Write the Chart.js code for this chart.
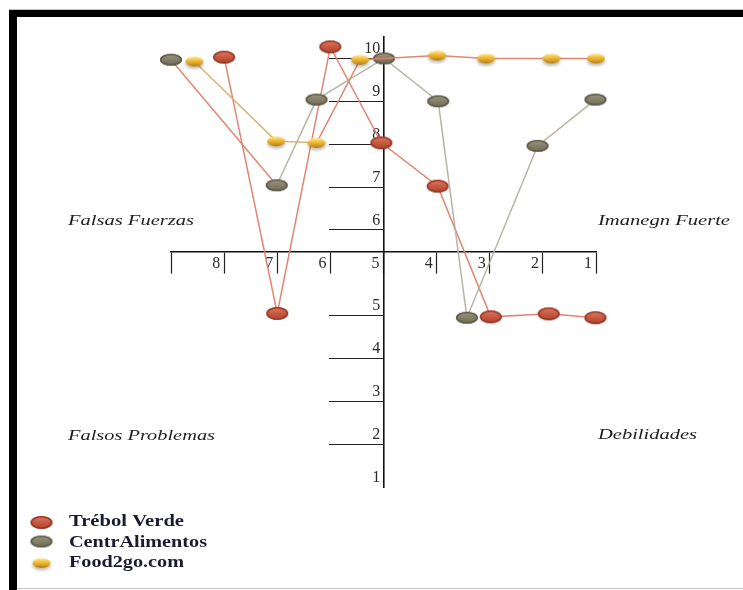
<!DOCTYPE html>
<html>
<head>
<meta charset="utf-8">
<script src="https://cdn.jsdelivr.net/npm/chart.js@4/dist/chart.umd.min.js"></script>
<style>
  html, body { margin: 0; padding: 0; background: #fff; overflow: hidden; }
  canvas { display: block; }
</style>
</head>
<body>
<canvas id="mapa" width="743" height="590"></canvas>
<script>
// Tick labels of the two crossing axes
const xTickLabels = ['1', '2', '3', '4', '5', '6', '7', '8'];
const yTickValues = [1, 2, 3, 4, 5, 6, 7, 8, 9, 10];
const yTickLabels = ['1', '2', '3', '4', '5', '6', '7', '8', '9', '10'];

// Series names
const seriesNames = ['Trébol Verde', 'CentrAlimentos', 'Food2go.com'];

// Trébol Verde
const trebolX = [8.0, 7.0, 6.0, 5.04, 3.98, 2.98, 1.89, 1.01];
const trebolY = [10.03, 5.05, 10.27, 8.03, 7.02, 4.97, 5.04, 4.95];

// CentrAlimentos
const centrX = [9.0, 7.01, 6.26, 4.99, 3.97, 3.43, 2.1, 1.01];
const centrY = [9.97, 7.04, 9.04, 10.0, 9.0, 4.95, 7.96, 9.04];

// Food2go.com
const foodX = [8.56, 7.02, 6.26, 5.44, 3.99, 3.07, 1.84, 1.0];
const foodY = [9.93, 8.07, 8.03, 9.97, 10.07, 10.0, 10.0, 10.0];

// Quadrant captions
const quadrantNames = ['Falsas Fuerzas', 'Imanegn Fuerte', 'Falsos Problemas', 'Debilidades'];

// The band between 5 and 6 is drawn twice as tall so the horizontal axis fits inside it.
function axisPos(v) { return v > 5.5 ? v + 1 : v; }

function toPoints(xs, ys) {
  return xs.map((x, i) => ({ x: x, y: axisPos(ys[i]) }));
}

// Oval markers with a soft vertical shading
function makeMarker(w, h, stops, stroke, shadow) {
  const pad = 4;
  const c = document.createElement('canvas');
  c.width = w + pad * 2;
  c.height = h + pad * 2;
  const g = c.getContext('2d');
  const cx = c.width / 2, cy = c.height / 2;
  if (shadow) {
    g.save();
    g.filter = 'blur(1.5px)';
    g.fillStyle = 'rgba(70,60,40,0.35)';
    g.beginPath();
    g.ellipse(cx, cy + 2.5, w / 2, h / 2, 0, 0, Math.PI * 2);
    g.fill();
    g.restore();
  }
  const grad = g.createLinearGradient(0, cy - h / 2, 0, cy + h / 2);
  stops.forEach(s => grad.addColorStop(s[0], s[1]));
  g.fillStyle = grad;
  g.beginPath();
  g.ellipse(cx, cy, w / 2, h / 2, 0, 0, Math.PI * 2);
  g.fill();
  if (stroke) {
    g.strokeStyle = stroke;
    g.lineWidth = 1.6;
    g.beginPath();
    g.ellipse(cx, cy, w / 2 - 0.8, h / 2 - 0.8, 0, 0, Math.PI * 2);
    g.stroke();
  }
  return c;
}

const redMarker = makeMarker(22, 13, [[0, '#e07c62'], [0.45, '#cc5c42'], [1, '#a8432f']], '#93392a', false);
const grayMarker = makeMarker(22, 12, [[0, '#9c977f'], [0.5, '#858069'], [1, '#6c6853']], '#5d5947', false);
const goldMarker = makeMarker(18, 10, [[0, '#fff0a8'], [0.35, '#f3c443'], [0.75, '#d89a1e'], [1, '#a8730f']], null, true);

const salmon = 'rgba(222,128,106,0.95)';
const taupe = 'rgba(180,176,160,0.95)';
const tan = 'rgba(214,178,110,0.95)';

function stretchedText(ctx, text, x, y, font, width, color) {
  ctx.save();
  ctx.font = font;
  const w = ctx.measureText(text).width;
  ctx.translate(x, y);
  ctx.scale(width / w, 1);
  ctx.fillStyle = color;
  ctx.textBaseline = 'alphabetic';
  ctx.textAlign = 'left';
  ctx.fillText(text, 0, 0);
  ctx.restore();
}

// Frame, quadrant captions and legend
const decorations = {
  id: 'decorations',
  beforeDraw(chart) {
    const ctx = chart.ctx;
    ctx.save();
    ctx.fillStyle = '#fff';
    ctx.fillRect(0, 0, chart.width, chart.height);
    ctx.fillStyle = '#c4c4c4';
    ctx.fillRect(9, 9, chart.width - 9, 1);
    ctx.fillRect(17, 588, chart.width - 17, 1);
    ctx.fillStyle = '#000';
    ctx.fillRect(9, 10, chart.width - 9, 7);
    ctx.fillRect(9, 10, 8, chart.height - 10);
    ctx.restore();
  },
  afterDraw(chart) {
    const ctx = chart.ctx;
    const qFont = 'italic 15px "Liberation Serif"';
    const qColor = '#1e1e1e';
    const layout = [
      { x: 68, y: 225, w: 126 },
      { x: 598, y: 225, w: 132 },
      { x: 68, y: 440, w: 147 },
      { x: 598, y: 439, w: 99 }
    ];
    quadrantNames.forEach((t, i) => stretchedText(ctx, t, layout[i].x, layout[i].y, qFont, layout[i].w, qColor));

    const markers = [redMarker, grayMarker, goldMarker];
    const rows = [
      { my: 522.5, ty: 526, w: 115 },
      { my: 541.5, ty: 547, w: 138 },
      { my: 563, ty: 567, w: 115 }
    ];
    chart.data.datasets.forEach((ds, i) => {
      const m = markers[i];
      ctx.drawImage(m, 41.5 - m.width / 2, rows[i].my - m.height / 2);
      stretchedText(ctx, ds.label, 69, rows[i].ty, 'bold 17px "Liberation Serif"', rows[i].w, '#1b1b30');
    });
  }
};

new Chart(document.getElementById('mapa'), {
  type: 'line',
  data: {
    datasets: [
      {
        label: seriesNames[0],
        data: toPoints(trebolX, trebolY),
        borderColor: salmon,
        borderWidth: 1.5,
        pointStyle: redMarker,
        pointRadius: 10,
        clip: false,
        order: 3
      },
      {
        label: seriesNames[1],
        data: toPoints(centrX, centrY),
        borderColor: taupe,
        borderWidth: 1.5,
        pointStyle: grayMarker,
        pointRadius: 10,
        clip: false,
        segment: {
          borderColor: c => c.p0DataIndex === 0 ? salmon : taupe
        },
        order: 2
      },
      {
        label: seriesNames[2],
        data: toPoints(foodX, foodY),
        borderColor: tan,
        borderWidth: 1.5,
        pointStyle: goldMarker,
        pointRadius: 10,
        clip: false,
        segment: {
          borderColor: c => c.p0DataIndex >= 2 ? salmon : tan
        },
        order: 1
      }
    ]
  },
  options: {
    responsive: false,
    animation: false,
    events: [],
    layout: { padding: { left: 171, right: 147, top: 37, bottom: 103 } },
    plugins: { legend: { display: false }, tooltip: { enabled: false } },
    scales: {
      x: {
        type: 'linear',
        reverse: true,
        min: 1,
        max: 9,
        position: { y: 6.49 },
        afterBuildTicks: s => { s.ticks = [9, 8, 7, 6, 5, 4, 3, 2, 1].map(v => ({ value: v })); },
        grid: { drawOnChartArea: false, drawTicks: true, tickLength: 21, tickColor: '#222', tickWidth: 1.2 },
        border: { display: true, color: '#111', width: 1.6 },
        ticks: {
          autoSkip: false,
          maxRotation: 0,
          align: 'end',
          padding: -19,
          labelOffset: -4,
          color: '#2a2a2a',
          font: { family: '"Liberation Serif"', size: 16 },
          callback: v => xTickLabels[v - 1] || ''
        }
      },
      y: {
        type: 'linear',
        min: 1,
        max: 11.5,
        position: { x: 5 },
        afterBuildTicks: s => { s.ticks = yTickValues.map(v => ({ value: axisPos(v) })); },
        grid: {
          drawOnChartArea: false,
          drawTicks: true,
          tickLength: 54,
          tickWidth: 1.2,
          tickColor: c => (c.tick && c.tick.value === 1) ? 'rgba(0,0,0,0)' : '#222'
        },
        border: { display: true, color: '#111', width: 1.6 },
        ticks: {
          autoSkip: false,
          labelOffset: -9.5,
          color: '#2a2a2a',
          font: { family: '"Liberation Serif"', size: 16 },
          callback: v => {
            const i = yTickValues.findIndex(t => axisPos(t) === v);
            return i >= 0 ? yTickLabels[i] + '\u2009' : '';
          }
        }
      }
    }
  },
  plugins: [decorations]
});
</script>
</body>
</html>
